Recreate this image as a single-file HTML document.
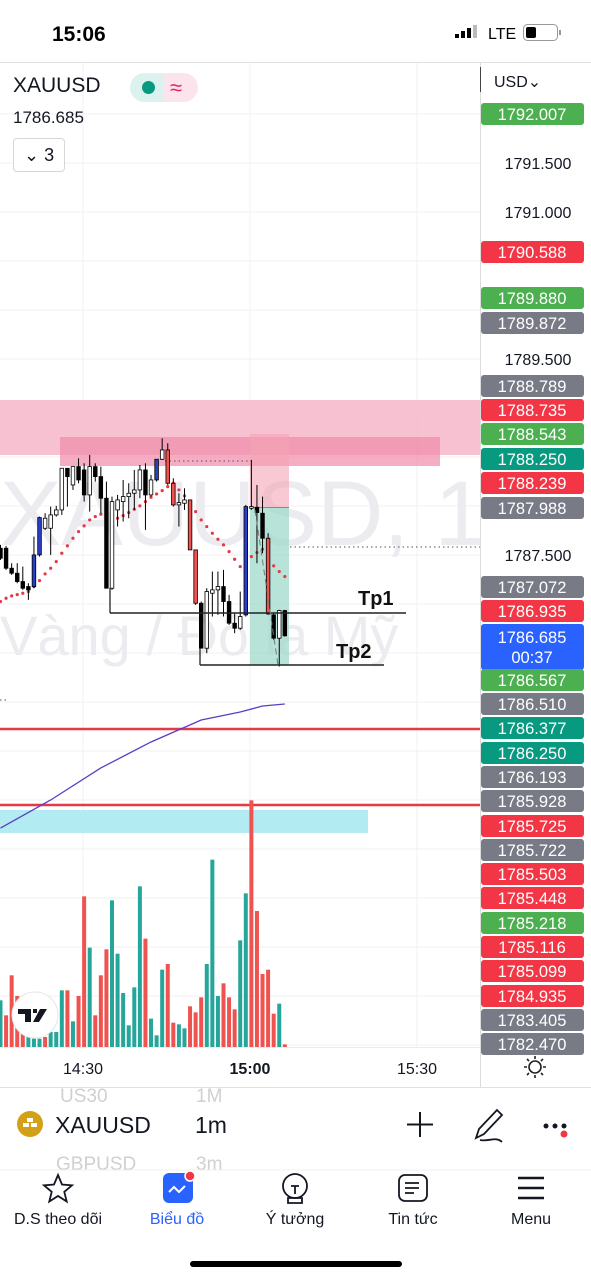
<!DOCTYPE html>
<html><head><meta charset="utf-8">
<style>
html,body{margin:0;padding:0;background:#fff;}
body{width:591px;height:1280px;overflow:hidden;position:relative;font-family:"Liberation Sans","Noto Sans CJK JP",sans-serif;}
svg{position:absolute;left:0;top:0;}
</style></head>
<body>
<svg id="c" width="591" height="1280" viewBox="0 0 591 1280" xmlns="http://www.w3.org/2000/svg" font-family="Liberation Sans, sans-serif">
  <!-- status bar -->
  <text x="52" y="41" font-size="21" font-weight="bold" fill="#000">15:06</text>
  <g>
    <rect x="455" y="34" width="4" height="4" fill="#000"/><rect x="461" y="31" width="4" height="7" fill="#000"/><rect x="467" y="28" width="4" height="10" fill="#000"/><rect x="473" y="25" width="4" height="13" fill="#bbb"/>
  </g>
  <text x="488" y="39" font-size="16" fill="#000">LTE</text>
  <g>
    <rect x="523.5" y="24.5" width="34" height="16" rx="4" fill="none" stroke="#999"/>
    <rect x="526" y="27" width="10" height="11" rx="2" fill="#000"/>
    <rect x="559" y="30" width="2" height="5" fill="#999"/>
  </g>

  <!-- chart frame -->
  <line x1="0" y1="62.5" x2="591" y2="62.5" stroke="#e0e0e0"/>
  <g id="grid"></g>

  <!-- watermark -->
  <text x="0" y="545" font-size="92" fill="#ececf0">XAUUSD, 1</text>
  <text x="0" y="655" font-size="56" fill="#ececf0">Vàng / Đô la Mỹ</text>

  <!-- zones -->
  <rect x="0" y="400" width="480" height="55" fill="#f6b6c9" opacity="0.85"/>
  <rect x="60" y="437" width="380" height="29" fill="#f08aa9" opacity="0.7"/>
  <rect x="250" y="434" width="39" height="73" fill="#f3a3b6" opacity="0.6"/>
  <rect x="250" y="507" width="39" height="158" fill="#9fd9cb" opacity="0.75"/>
  <line x1="250" y1="507.5" x2="289" y2="507.5" stroke="#888"/>
  <line x1="165" y1="461" x2="255" y2="461" stroke="#555" stroke-dasharray="1.5,3"/>
  <line x1="290" y1="547" x2="480" y2="547" stroke="#555" stroke-dasharray="1.5,3"/>
  <line x1="0" y1="700" x2="8" y2="700" stroke="#555" stroke-dasharray="1.5,3"/>
  <rect x="0" y="810" width="368" height="23" fill="#b2ebf2"/>
  <line x1="0" y1="729" x2="480" y2="729" stroke="#e53945" stroke-width="2.5"/>
  <line x1="0" y1="805" x2="480" y2="805" stroke="#e53945" stroke-width="2.5"/>

  <g id="vol"></g>
  <path id="ma" fill="none" stroke="#5b3cc4" stroke-width="1.3"/>
  <g id="sar"></g>
  <g id="candles"></g>

  <!-- TP lines -->
  <line x1="110" y1="588" x2="110" y2="613" stroke="#222" stroke-width="1.3"/>
  <line x1="110" y1="613" x2="406" y2="613" stroke="#222" stroke-width="1.5"/>
  <text x="358" y="605" font-size="20" font-weight="bold" fill="#111">Tp1</text>
  <line x1="200" y1="648" x2="200" y2="665" stroke="#222" stroke-width="1.3"/>
  <line x1="200" y1="665" x2="384" y2="665" stroke="#222" stroke-width="1.5"/>
  <text x="336" y="658" font-size="20" font-weight="bold" fill="#111">Tp2</text>
  <line x1="255" y1="510" x2="278" y2="665" stroke="#777" stroke-dasharray="6,4"/>

  <!-- TV logo -->
  <g>
    <circle cx="35" cy="1015" r="23" fill="#fff" stroke="#e6e6e6"/>
    <path d="M18 1009h13v13h-6v-8h-7z M33 1009h4v4h-4z M40 1009h7l-8 13h-6z" fill="#131722"/>
  </g>

  <!-- price axis -->
  <rect x="480" y="63" width="111" height="1024" fill="#fff"/>
  <line x1="480.5" y1="63" x2="480.5" y2="1087" stroke="#dcdcdc"/>
  <line x1="480.5" y1="67" x2="480.5" y2="92" stroke="#444"/>
  <text x="494" y="87" font-size="16" fill="#131722">USD⌄</text>
  <g id="plabels"></g>

  <!-- time axis -->
  <line x1="0" y1="1047.5" x2="480" y2="1047.5" stroke="#ececec"/>
  <line x1="0" y1="1087.5" x2="591" y2="1087.5" stroke="#e0e0e0"/>
  <text x="83" y="1074" font-size="16" fill="#131722" text-anchor="middle">14:30</text>
  <text x="250" y="1074" font-size="16" font-weight="bold" fill="#131722" text-anchor="middle">15:00</text>
  <text x="417" y="1074" font-size="16" fill="#131722" text-anchor="middle">15:30</text>
  <g stroke="#222" stroke-width="1.6" fill="none">
    <circle cx="535" cy="1067" r="6"/>
    <path d="M535 1056v3M535 1075v3M524 1067h3M543 1067h3M527 1059l2 2M541 1073l2 2M527 1075l2-2M541 1061l2-2"/>
  </g>

  <!-- symbol bar -->
  <text x="60" y="1102" font-size="19" fill="#d0d0d0">US30</text>
  <text x="196" y="1102" font-size="19" fill="#d0d0d0">1M</text>
  <text x="56" y="1170" font-size="19" fill="#d0d0d0">GBPUSD</text>
  <text x="196" y="1170" font-size="19" fill="#d0d0d0">3m</text>
  <rect x="0" y="1110" width="591" height="30" fill="#fff" opacity="0.9"/>
  <g>
    <circle cx="30" cy="1124" r="13" fill="#d4a017"/>
    <rect x="23" y="1123" width="6" height="4" fill="#fff"/><rect x="31" y="1123" width="6" height="4" fill="#fff"/><rect x="27" y="1118" width="6" height="4" fill="#fff"/>
  </g>
  <text x="55" y="1133" font-size="23" fill="#131722">XAUUSD</text>
  <text x="195" y="1133" font-size="23" fill="#131722">1m</text>
  <path d="M420 1112v25M407 1124.5h26" stroke="#131722" stroke-width="2"/>
  <path d="M476 1138l3-9 18-19 5 5-18 19z M480 1140c8 2 16-4 22 2" stroke="#131722" stroke-width="1.8" fill="none"/>
  <g>
    <circle cx="546" cy="1126" r="2.5" fill="#131722"/><circle cx="555" cy="1126" r="2.5" fill="#131722"/><circle cx="564" cy="1126" r="2.5" fill="#131722"/><circle cx="564" cy="1134" r="3.5" fill="#f23645"/>
  </g>
  <line x1="0" y1="1170" x2="591" y2="1170" stroke="#f0f0f0"/>

  <!-- tab bar -->
  <g>
    <path d="M58 1175l4 9.5 10 .8-7.7 6.5 2.4 9.7L58 1196l-8.7 5.5 2.4-9.7-7.7-6.5 10-.8z" fill="none" stroke="#131722" stroke-width="1.8"/>
    <text x="58" y="1224" font-size="16" fill="#131722" text-anchor="middle">D.S theo dõi</text>
  </g>
  <g>
    <rect x="163" y="1173" width="30" height="30" rx="6" fill="#2962ff"/>
    <path d="M169 1192l5-5 5 5 6-6" stroke="#fff" stroke-width="2" fill="none"/>
    <circle cx="190" cy="1176" r="5" fill="#f23645" stroke="#fff" stroke-width="1.5"/>
    <text x="177" y="1224" font-size="16" fill="#2962ff" text-anchor="middle">Biểu đồ</text>
  </g>
  <g>
    <circle cx="295" cy="1186" r="12" fill="none" stroke="#131722" stroke-width="1.8"/>
    <path d="M288 1198h14v5h-14z M291 1186h8M295 1186v8" fill="none" stroke="#131722" stroke-width="1.8"/>
    <text x="295" y="1224" font-size="16" fill="#131722" text-anchor="middle">Ý tưởng</text>
  </g>
  <g>
    <rect x="399" y="1175" width="28" height="26" rx="6" fill="none" stroke="#131722" stroke-width="1.8"/>
    <path d="M405 1183h14M405 1188h14M405 1193h9" stroke="#131722" stroke-width="1.8"/>
    <text x="413" y="1224" font-size="16" fill="#131722" text-anchor="middle">Tin tức</text>
  </g>
  <g>
    <path d="M518 1178h26M518 1188h26M518 1198h26" stroke="#131722" stroke-width="2.5"/>
    <text x="531" y="1224" font-size="16" fill="#131722" text-anchor="middle">Menu</text>
  </g>
  <rect x="190" y="1261" width="212" height="6" rx="3" fill="#000"/>
</svg>

<!-- header overlay -->
<div style="position:absolute;left:13px;top:74px;font-size:21px;color:#131722;">XAUUSD</div>
<div style="position:absolute;left:130px;top:73px;width:68px;height:29px;border-radius:15px;overflow:hidden;display:flex;">
  <div style="width:34px;background:#dcf2ee;position:relative;"><div style="position:absolute;left:12px;top:8px;width:13px;height:13px;border-radius:50%;background:#089981;"></div></div>
  <div style="width:34px;background:#fce4ec;color:#e91e63;font-size:22px;line-height:29px;text-indent:6px;">≈</div>
</div>
<div style="position:absolute;left:13px;top:108px;font-size:17px;color:#131722;">1786.685</div>
<div style="position:absolute;left:13px;top:138px;width:52px;height:34px;border:1px solid #d6d6d6;border-radius:4px;box-sizing:border-box;font-size:18px;line-height:32px;color:#131722;text-indent:10px;background:#fff;">⌄ 3</div>

<script>
// ---- data ----
const openP  = [1787.569,1787.569,1787.365,1787.314,1787.229,1787.178,1787.178,1787.501,1787.773,1787.773,1787.909,1787.960,1788.385,1788.215,1788.402,1788.368,1788.113,1788.402,1788.300,1788.079,1787.161,1787.960,1788.045,1788.096,1788.130,1788.164,1788.368,1788.113,1788.266,1788.477,1788.572,1788.232,1788.011,1788.028,1788.062,1787.552,1787.008,1786.549,1787.110,1787.144,1787.178,1787.025,1786.804,1786.753,1786.889,1787.977,1787.987,1787.926,1787.671,1786.889,1786.651,1786.933];
const highP  = [1787.603,1787.593,1787.416,1787.416,1787.382,1787.212,1787.688,1787.892,1787.926,1787.994,1788.001,1788.385,1788.385,1788.402,1788.487,1788.436,1788.521,1788.436,1788.402,1788.249,1788.096,1788.113,1788.266,1788.232,1788.368,1788.419,1788.436,1788.317,1788.477,1788.691,1788.640,1788.283,1788.130,1788.181,1788.062,1787.552,1787.025,1787.161,1787.331,1787.331,1787.348,1787.093,1786.906,1787.127,1788.011,1788.470,1788.215,1788.096,1787.722,1786.906,1786.940,1786.940];
const lowP   = [1787.450,1787.348,1787.297,1787.212,1787.144,1787.042,1787.161,1787.484,1787.756,1787.501,1787.892,1787.909,1787.994,1788.164,1788.232,1788.045,1787.943,1788.249,1787.926,1787.161,1787.144,1787.790,1787.841,1787.875,1787.960,1788.079,1787.756,1788.096,1788.249,1788.470,1788.215,1787.994,1787.790,1787.960,1787.552,1786.991,1786.549,1786.498,1786.872,1786.889,1786.872,1786.787,1786.702,1786.736,1786.872,1787.960,1787.416,1787.518,1786.889,1786.634,1786.362,1786.668];
const closeP = [1787.467,1787.365,1787.314,1787.229,1787.161,1787.144,1787.501,1787.882,1787.875,1787.909,1787.960,1788.385,1788.300,1788.402,1788.266,1788.113,1788.402,1788.300,1788.079,1787.161,1788.045,1788.062,1788.096,1788.130,1788.164,1788.368,1788.113,1788.266,1788.477,1788.572,1788.232,1788.011,1788.035,1788.062,1787.552,1787.008,1786.549,1787.127,1787.144,1787.178,1787.025,1786.804,1786.753,1786.872,1787.994,1787.994,1787.933,1787.671,1786.899,1786.651,1786.933,1786.675];
const barColorType = "bbbbbbuuwwwwbwbbwbbbwwwwwwbwuwrrwwrrbwwwbbbwuwbbrbwb";
const sarP = [1787.025,1787.059,1787.083,1787.096,1787.110,1787.127,1787.178,1787.239,1787.307,1787.365,1787.433,1787.518,1787.593,1787.671,1787.739,1787.797,1787.858,1787.892,1787.916,null,null,1787.875,1787.902,1787.933,1787.967,1788.001,1788.045,1788.089,1788.123,1788.157,1788.198,1788.232,1788.164,1788.103,1788.035,1787.943,1787.858,1787.790,1787.722,1787.661,1787.603,1787.535,1787.457,1787.382,null,1787.484,1787.525,1787.559,null,1787.389,1787.331,1787.280];
const volume = [140,95,215,153,140,30,25,25,30,45,45,170,170,77,153,452,298,95,215,293,440,280,162,65,179,482,325,85,35,232,249,73,68,56,122,104,149,249,562,153,191,149,113,320,461,740,408,219,232,100,130,8];
const volUp = ["u","r","r","r","r","u","u","u","r","u","u","u","r","u","r","r","u","r","r","r","u","u","u","u","u","u","r","u","u","u","r","r","u","u","r","r","r","u","u","u","r","r","r","u","u","r","r","r","r","r","u","r"];
const maIdx = [0,9,18,27,36,43,47,51];
const maP = [1784.714,1785.000,1785.327,1785.592,1785.816,1785.898,1785.959,1785.980];
const plainTicks = ["1791.500","1791.000","1789.500","1787.500"];
const labelPrices = ["1792.007","1790.588","1789.880","1789.872","1788.789","1788.735","1788.543","1788.250","1788.239","1787.988","1787.072","1786.935","1786.685","1786.567","1786.510","1786.377","1786.250","1786.193","1785.928","1785.725","1785.722","1785.503","1785.448","1785.218","1785.116","1785.099","1784.935","1783.405","1782.470"];
const labelKindsFixed = ["g","r","g","y","y","r","g","t","r","y","y","r","b","g","y","t","t","y","y","r","y","r","r","g","r","r","r","y","y"];
const labelY = [114,252,298,323,386,410,434,459,483,508,587,611,637,680,704,728,753,777,801,826,850,874,898,923,947,971,996,1020,1044];

// ---- axes ----
const yOf = p => 163 + (1791.5 - p) * 98;
const xOf = i => 0.5 + i * 5.575;
const vY = v => 1047 - v / 3;
const NS = "http://www.w3.org/2000/svg";
function mk(tag, attrs, parent){const e=document.createElementNS(NS,tag);for(const k in attrs)e.setAttribute(k,attrs[k]);parent.appendChild(e);return e;}

const grid = document.getElementById('grid');
[83,250,417].forEach(x=>{const l=mk('line',{x1:x,y1:63,x2:x,y2:1047,stroke:'#f0f0f3'},grid);

});
for(let p=1792; p>=1782.5; p-=0.5){const y=yOf(p);const l=mk('line',{x1:0,y1:y,x2:480,y2:y,stroke:'#f0f0f3'},grid);

}

const vol = document.getElementById('vol');
volume.forEach((v,i)=>{const r=mk('rect',{x:xOf(i)-2,y:vY(v),width:4,height:v/3,fill:volUp[i]==='u'?'#26a69a':'#ef5350'},vol);

});

let d='';maIdx.forEach((ix,k)=>{d+=(k?'L':'M')+xOf(ix)+' '+yOf(maP[k]);});
document.getElementById('ma').setAttribute('d',d);

const sar=document.getElementById('sar');
sarP.forEach((p,i)=>{if(p===null)return;const c=mk('circle',{cx:xOf(i),cy:yOf(p),r:1.6,fill:'#e53945'},sar);

});

const cg=document.getElementById('candles');
const cols={b:['#000','#000'],w:['#fff','#000'],u:['#2a3fc7','#000'],r:['#ef5350','#000']};
openP.forEach((o,i)=>{const c=closeP[i];const t=barColorType[i];const x=xOf(i);
 const w=mk('line',{x1:x,y1:yOf(highP[i]),x2:x,y2:yOf(lowP[i]),stroke:'#000','stroke-width':1},cg);
 
 
 const top=yOf(Math.max(o,c)), bot=yOf(Math.min(o,c));
 const b=mk('rect',{x:x-1.8,y:top,width:3.6,height:Math.max(1,bot-top),fill:cols[t][0],stroke:cols[t][1],'stroke-width':0.8},cg);
 
 });

const pl=document.getElementById('plabels');
const kc={g:'#4caf50',r:'#f23645',y:'#787b86',t:'#089981',b:'#2962ff'};
plainTicks.forEach(s=>{const t=mk('text',{x:538,y:yOf(+s)+6,'font-size':16,fill:'#131722','text-anchor':'middle'},pl);t.textContent=s;

});
labelPrices.forEach((s,i)=>{const k=labelKindsFixed[i];const cy=labelY[i];
 const big=k==='b';
 const r=mk('rect',{x:481,y:big?cy-13:cy-11,width:103,height:big?46:22,rx:3,fill:kc[k]},pl);
 
 
 const t=mk('text',{x:532,y:cy+6,'font-size':16.5,fill:'#fff','text-anchor':'middle'},pl);t.textContent=s;
 
 
 if(big){const t2=mk('text',{x:532,y:cy+26,'font-size':16.5,fill:'#fff','text-anchor':'middle'},pl);t2.textContent='00:37';
 
 }
});
</script>
</body></html>
